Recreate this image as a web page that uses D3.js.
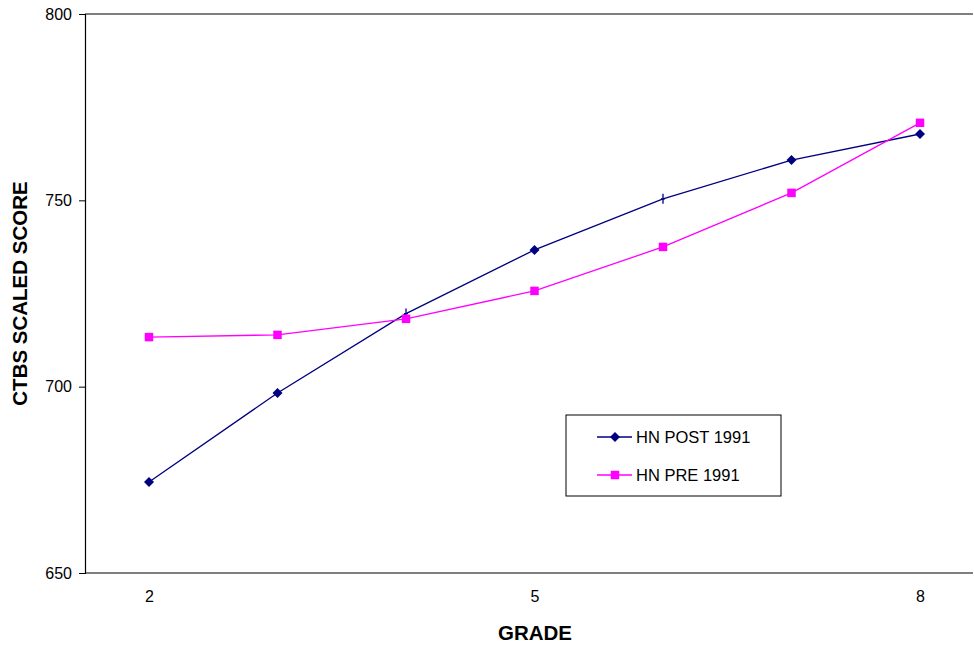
<!DOCTYPE html>
<html>
<head>
<meta charset="utf-8">
<script src="https://cdn.jsdelivr.net/npm/d3@7"></script>
<style>
  body { margin: 0; background: #fff; }
  text { font-family: "Liberation Sans", Arial, sans-serif; }
</style>
</head>
<body>
<script>
// chart data
const grades = [2, 3, 4, 5, 6, 7, 8];
const gradeTicks = [2, 5, 8];
const postScores = [674.4, 698.3, 719.6, 736.7, 750.4, 760.8, 767.8]; // HN POST 1991
const preScores = [713.3, 713.9, 718.2, 725.7, 737.5, 752.0, 770.8];  // HN PRE 1991
const scoreTicks = [650, 700, 750, 800];
const seriesNames = ['HN POST 1991', 'HN PRE 1991'];
const crossGrades = [4, 6]; // post points drawn as a thin cross in the original

const width = 974, height = 649;
const plotLeft = 85, plotTop = 14, plotRight = 973, plotBottom = 573;

const svg = d3.select('body').append('svg')
  .attr('width', width)
  .attr('height', height);

const x = d3.scalePoint()
  .domain(grades)
  .range([149, 920]);

const y = d3.scaleLinear()
  .domain([650, 800])
  .range([plotBottom, plotTop]);

// top border of plot area
svg.append('line')
  .attr('x1', plotLeft).attr('x2', plotRight)
  .attr('y1', y(800)).attr('y2', y(800))
  .attr('stroke', '#000').attr('stroke-width', 1.2);

// y axis
const yAxis = svg.append('g')
  .attr('transform', `translate(${plotLeft},0)`)
  .call(d3.axisLeft(y).tickValues(scoreTicks).tickSize(6).tickPadding(7));
yAxis.select('.domain').attr('stroke-width', 1.2);
yAxis.selectAll('text').style('font-size', '16px').attr('fill', '#000');

// x axis (no ticks shown)
const xAxis = svg.append('g')
  .attr('transform', `translate(0,${plotBottom})`)
  .call(d3.axisBottom(x).tickValues(gradeTicks).tickSize(0).tickPadding(18));
xAxis.select('.domain').attr('d', `M${plotLeft},0H${plotRight}`).attr('stroke-width', 1.2);
xAxis.selectAll('text').style('font-size', '16px').attr('fill', '#000');

// axis titles
svg.append('text')
  .attr('x', 535).attr('y', 640)
  .attr('text-anchor', 'middle')
  .style('font-size', '20.5px').attr('font-weight', 'bold')
  .text('GRADE');

svg.append('text')
  .attr('transform', 'translate(27,' + ((plotTop + plotBottom) / 2) + ') rotate(-90)')
  .attr('text-anchor', 'middle')
  .style('font-size', '20.5px').attr('font-weight', 'bold')
  .text('CTBS SCALED SCORE');

const line = d3.line()
  .x((d, i) => x(grades[i]))
  .y(d => y(d));

const postColor = '#000080', preColor = '#ff00ff';

// post series line
svg.append('path')
  .datum(postScores)
  .attr('d', line)
  .attr('fill', 'none')
  .attr('stroke', postColor)
  .attr('stroke-width', 1.3);

const diamond = () => 'M0,-5L5,0L0,5L-5,0Z';
const square = d3.symbol().type(d3.symbolSquare).size(72);

const isCross = i => crossGrades.includes(grades[i]);

svg.selectAll('.post')
  .data(postScores)
  .enter()
  .append('path')
  .attr('class', 'post')
  .attr('transform', (d, i) => `translate(${x(grades[i])},${y(d)})`)
  .attr('d', (d, i) => isCross(i) ? 'M0,-5V5M-2,0H2' : diamond())
  .attr('fill', postColor)
  .attr('stroke', postColor)
  .attr('stroke-width', (d, i) => isCross(i) ? 1.3 : 0);

// pre series
svg.append('path')
  .datum(preScores)
  .attr('d', line)
  .attr('fill', 'none')
  .attr('stroke', preColor)
  .attr('stroke-width', 1.3);

svg.selectAll('.pre')
  .data(preScores)
  .enter()
  .append('path')
  .attr('class', 'pre')
  .attr('transform', (d, i) => `translate(${x(grades[i])},${y(d)})`)
  .attr('d', square)
  .attr('fill', preColor);

// legend
const legend = svg.append('g').attr('transform', 'translate(566,415)');
legend.append('rect')
  .attr('width', 215).attr('height', 81)
  .attr('fill', '#fff').attr('stroke', '#000').attr('stroke-width', 1);

const legendItems = legend.selectAll('.item')
  .data(seriesNames)
  .enter()
  .append('g')
  .attr('class', 'item')
  .attr('transform', (d, i) => `translate(0,${22 + i * 38})`);

legendItems.append('line')
  .attr('x1', 31).attr('x2', 66)
  .attr('stroke', (d, i) => i === 0 ? postColor : preColor)
  .attr('stroke-width', 1.3);

legendItems.append('path')
  .attr('transform', 'translate(49,0)')
  .attr('d', (d, i) => i === 0 ? diamond() : square())
  .attr('fill', (d, i) => i === 0 ? postColor : preColor);

legendItems.append('text')
  .attr('x', 70).attr('dy', '0.35em')
  .style('font-size', '16.5px')
  .text(d => d);
</script>
</body>
</html>
